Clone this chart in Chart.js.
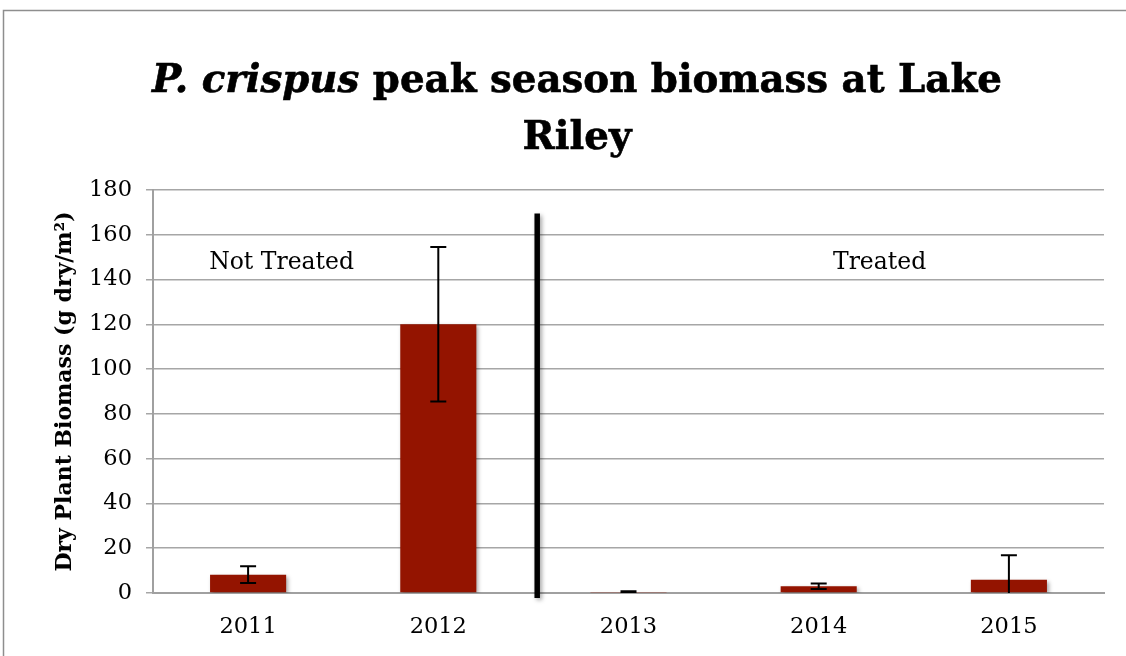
<!DOCTYPE html>
<html><head><meta charset="utf-8">
<script src="https://cdn.jsdelivr.net/npm/chart.js@4.4.0/dist/chart.umd.min.js"></script>
<style>html,body{margin:0;padding:0;background:#fff;}#wrap{width:1126px;height:656px;}</style>
</head><body><div id="wrap"><canvas id="c" width="1126" height="656"></canvas></div>
<script>
const years = ['2011', '2012', '2013', '2014', '2015'];
const biomass = [8.2, 120, 0.5, 3.0, 5.9];
const stdErr = [3.7, 34.5, 0.3, 1.2, 11];
const yTicks = [0, 20, 40, 60, 80, 100, 120, 140, 160, 180];
const groupLabels = ['Not Treated', 'Treated'];

const SERIF = '"DejaVu Serif", "Liberation Serif", serif';

const framePlugin = {
  id: 'frame',
  beforeDraw(chart) {
    const ctx = chart.ctx;
    ctx.save();
    ctx.fillStyle = '#fff';
    ctx.fillRect(0, 0, chart.width, chart.height);
    ctx.strokeStyle = '#8e8e8e';
    ctx.lineWidth = 1.5;
    ctx.strokeRect(3.5, 10.5, chart.width + 20, chart.height + 20);
    ctx.restore();
  }
};

const shadowPlugin = {
  id: 'barShadow',
  beforeDatasetsDraw(chart) {
    const ctx = chart.ctx;
    ctx.save();
    ctx.shadowColor = 'rgba(0,0,0,0.35)';
    ctx.shadowBlur = 4;
    ctx.shadowOffsetX = 2;
    ctx.shadowOffsetY = 2;
  },
  afterDatasetsDraw(chart) {
    chart.ctx.restore();
  }
};

const errorBarPlugin = {
  id: 'errorBars',
  afterDatasetsDraw(chart) {
    const ctx = chart.ctx;
    const xs = chart.scales.x, ys = chart.scales.y;
    const area = chart.chartArea;
    ctx.save();
    ctx.beginPath();
    ctx.rect(area.left, area.top - 5, area.right - area.left, area.bottom - area.top + 5);
    ctx.clip();
    ctx.strokeStyle = '#000';
    ctx.lineWidth = 2;
    biomass.forEach((v, i) => {
      const x = xs.getPixelForValue(i);
      const yt = ys.getPixelForValue(v + stdErr[i]);
      const yb = ys.getPixelForValue(v - stdErr[i]);
      ctx.beginPath();
      ctx.moveTo(x, yt); ctx.lineTo(x, yb);
      ctx.moveTo(x - 8, yt); ctx.lineTo(x + 8, yt);
      ctx.moveTo(x - 8, yb); ctx.lineTo(x + 8, yb);
      ctx.stroke();
    });
    ctx.restore();
  }
};

const dividerPlugin = {
  id: 'divider',
  afterDatasetsDraw(chart) {
    const ctx = chart.ctx;
    const xs = chart.scales.x, ys = chart.scales.y;
    const x = xs.getPixelForValue(1.52);
    ctx.save();
    ctx.shadowColor = 'rgba(0,0,0,0.35)';
    ctx.shadowBlur = 4;
    ctx.shadowOffsetX = 2;
    ctx.shadowOffsetY = 2;
    ctx.strokeStyle = '#000';
    ctx.lineWidth = 5.5;
    ctx.beginPath();
    ctx.moveTo(x, ys.getPixelForValue(169.5));
    ctx.lineTo(x, ys.getPixelForValue(-2.2));
    ctx.stroke();
    ctx.restore();
    // group labels
    ctx.save();
    ctx.fillStyle = '#000';
    ctx.font = '23.5px ' + SERIF;
    ctx.textAlign = 'center';
    ctx.textBaseline = 'middle';
    ctx.fillText(groupLabels[0], xs.getPixelForValue(0.176), ys.getPixelForValue(147.5));
    ctx.fillText(groupLabels[1], xs.getPixelForValue(3.32), ys.getPixelForValue(147.5));
    ctx.restore();
  }
};

const titlePlugin = {
  id: 'richTitle',
  afterDraw(chart) {
    const ctx = chart.ctx;
    const part1 = 'P. crispus';
    const part2 = ' peak season biomass at Lake';
    const line2 = 'Riley';
    const cx = 577;
    let size = 40;
    ctx.save();
    ctx.font = 'italic bold ' + size + 'px ' + SERIF;
    let w1 = ctx.measureText(part1).width;
    ctx.font = 'bold ' + size + 'px ' + SERIF;
    let w2 = ctx.measureText(part2).width;
    size = size * 850 / (w1 + w2);
    ctx.font = 'italic bold ' + size + 'px ' + SERIF;
    w1 = ctx.measureText(part1).width;
    ctx.font = 'bold ' + size + 'px ' + SERIF;
    w2 = ctx.measureText(part2).width;
    const start = cx - (w1 + w2) / 2;
    ctx.fillStyle = '#000';
    ctx.strokeStyle = '#000';
    ctx.lineWidth = 0.6;
    ctx.textBaseline = 'alphabetic';
    ctx.textAlign = 'left';
    ctx.font = 'italic bold ' + size + 'px ' + SERIF;
    ctx.fillText(part1, start, 92);
    ctx.strokeText(part1, start, 92);
    ctx.font = 'bold ' + size + 'px ' + SERIF;
    ctx.fillText(part2, start + w1, 92);
    ctx.strokeText(part2, start + w1, 92);
    ctx.textAlign = 'center';
    ctx.fillText(line2, cx, 149);
    ctx.strokeText(line2, cx, 149);
    ctx.restore();
  }
};

new Chart(document.getElementById('c'), {
  type: 'bar',
  data: {
    labels: years,
    datasets: [{
      data: biomass,
      backgroundColor: '#941400',
      borderWidth: 0,
      categoryPercentage: 1.0,
      barPercentage: 0.4
    }]
  },
  options: {
    responsive: false,
    animation: false,
    devicePixelRatio: 1,
    layout: { padding: { top: 190, right: 22, left: 0, bottom: 0 } },
    plugins: { legend: { display: false }, title: { display: false }, tooltip: { enabled: false } },
    scales: {
      x: {
        grid: { display: false, drawTicks: false },
        border: { display: true, color: '#a0a0a0', width: 2 },
        ticks: { color: '#000', font: { family: SERIF, size: 22.5 }, padding: 21 },
        afterFit(s) { s.height = 63; }
      },
      y: {
        min: 0, max: 180,
        afterBuildTicks(s) { s.ticks = yTicks.map(v => ({ value: v })); },
        grid: { color: '#a6a6a6', lineWidth: 1.5, tickLength: 7 },
        border: { display: true, color: '#a0a0a0', width: 2 },
        ticks: { color: '#000', font: { family: SERIF, size: 22.5 }, padding: 14 },
        title: {
          display: true,
          text: 'Dry Plant Biomass (g dry/m²)',
          color: '#000',
          font: { family: SERIF, size: 22, weight: 'bold' },
          padding: { top: 52, bottom: 4 }
        },
        afterFit(s) { s.width = 153; }
      }
    }
  },
  plugins: [framePlugin, shadowPlugin, errorBarPlugin, dividerPlugin, titlePlugin]
});
</script>
</body></html>
